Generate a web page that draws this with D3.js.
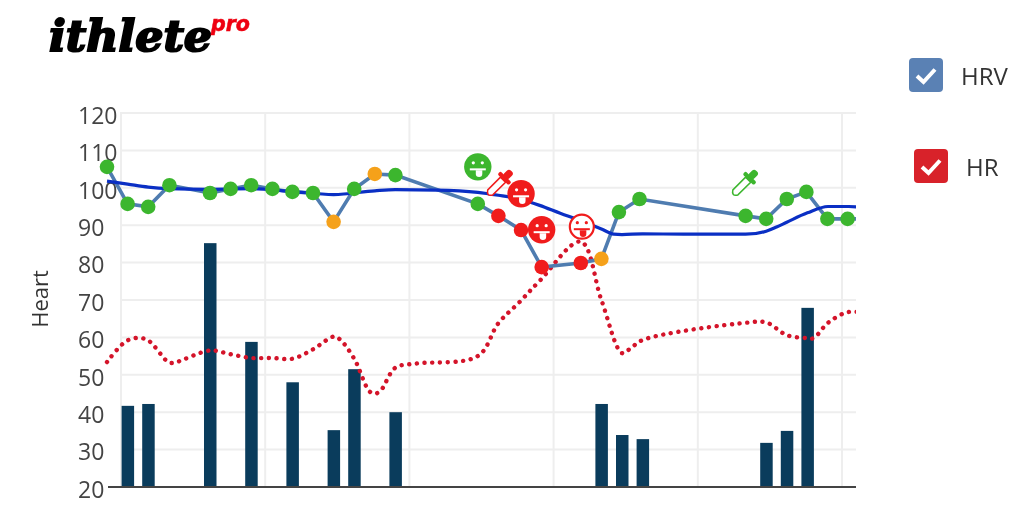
<!DOCTYPE html>
<html><head><meta charset="utf-8">
<script src="https://cdn.jsdelivr.net/npm/d3@7"></script>
<style>html,body{margin:0;padding:0;background:#fff}svg{display:block;filter:blur(.5px)}text{font-family:"Open Sans",sans-serif}</style>
</head><body><svg id="c" width="1024" height="506"></svg>
<script>
const yTicks=[20,30,40,50,60,70,80,90,100,110,120];
const gridDays=[0.68,7.68,14.68,21.68,28.68,35.68];
const hrvDays=[0,1,2,3.03,5,6,7,8.03,9,10,11,12,13,14,18,19,20.1,21.1,23,24,24.85,25.85,31,32,33,33.95,34.97,35.95,37];
const hrvValues=[105.6,95.7,94.9,100.7,98.6,99.7,100.7,99.7,98.9,98.6,90.9,99.7,103.7,103.4,95.7,92.5,88.7,78.8,79.9,81,93.5,97,92.5,91.7,97,98.9,91.7,91.7,91.7];
const hrvColors=["g","g","g","g","g","g","g","g","g","g","o","g","o","g","g","r","r","r","r","o","g","g","g","g","g","g","g","g","g"];
const avgDays=[0,1,2,3,5,7,9,11,13,14,16,18,19,20,21,22,23,24,24.6,25,26,28,31,32,32.5,33,34,35,36,37];
const avgValues=[101.8,101,100.2,99.8,99.6,99.8,99,98.2,99.2,99.5,99.4,98.8,98,97,95.3,93.2,91.2,89,87.6,87.5,87.7,87.6,87.6,88.4,89.5,90.8,93.3,95,95,94.6];
const hrDays=[0,1,1.9,3,3.3,5,6,7,8,9,10,11,11.3,12,12.8,13.2,14,15,18,19,20,21,23,24,25,25.4,26,31,32,33,34,34.3,35,36,37];
const hrValues=[53.4,59.2,59.5,53.3,53.3,56.5,55.5,54.5,54.5,54.3,56.8,60.2,59.5,54.3,45.3,45.3,51.9,53,55,63.8,69.3,75.1,85.6,70,55.8,57,59.3,63.9,64,60.6,59.8,59.8,63.9,66.8,66.3];
const barDays=[1,2,5,7,9,11,12,14,24,25,26,32,33,34];
const barValues=[41.7,42.2,85.2,58.8,48,35.2,51.5,40,42.2,33.9,32.8,31.8,35,67.9];
const faces=[{d:18,v:105.6,c:"#3cb62e",fill:true},{d:20.1,v:98.4,c:"#f01c1c",fill:true},{d:21.1,v:88.8,c:"#f01c1c",fill:true},{d:23.05,v:89.6,c:"#f01c1c",fill:false}];
const drops=[{d:19.1,v:101.5,c:"#f01c1c"},{d:31,v:101.5,c:"#3cb62e"}];
const legendItems=[{name:"HRV",c:"#5a81b4"},{name:"HR",c:"#d8222a"}];
const colors={g:"#3cb62e",o:"#f5a11a",r:"#f01c1c"};

const svg=d3.select("#c");
const x=d3.scaleLinear().domain([0,36]).range([107,848.6]);
const y=d3.scaleLinear().domain([20,120]).range([487,113]);
const L=108,R=856;
svg.append("defs").append("clipPath").attr("id","pc").append("rect").attr("x",90).attr("y",100).attr("width",R-90).attr("height",400);

const g=svg.append("g");
g.selectAll(".h").data(yTicks.slice(1)).join("line").attr("x1",L+12).attr("x2",R).attr("y1",y).attr("y2",y).attr("stroke","#eeeeee").attr("stroke-width",2);
g.selectAll(".v").data(gridDays).join("line").attr("x1",x).attr("x2",x).attr("y1",113).attr("y2",487).attr("stroke","#eeeeee").attr("stroke-width",2);

const ya=svg.append("g").attr("transform","translate(78,3)").call(d3.axisLeft(y).tickValues(yTicks).tickSize(0).tickPadding(0));
ya.select(".domain").remove();
ya.selectAll("text").attr("text-anchor","start").attr("x",0).attr("font-size",23).attr("fill","#444").style("font-family",'"Open Sans",sans-serif');
svg.append("text").attr("transform","translate(48,299) rotate(-90)").attr("text-anchor","middle").attr("font-size",22).attr("fill","#333").text("Heart");

svg.selectAll(".bar").data(barDays).join("rect").attr("x",d=>x(d)-6).attr("width",12.5).attr("y",(d,i)=>y(barValues[i])).attr("height",(d,i)=>y(20)-y(barValues[i])).attr("fill","#0a3c5c");
svg.append("line").attr("x1",L).attr("x2",R).attr("y1",487).attr("y2",487).attr("stroke","#444").attr("stroke-width",2);

const plot=svg.append("g").attr("clip-path","url(#pc)");
const ln=d3.line().x(d=>x(d[0])).y(d=>y(d[1]));
plot.append("path").attr("d",ln.curve(d3.curveCatmullRom.alpha(0.5))(hrDays.map((d,i)=>[d,hrValues[i]]))).attr("fill","none").attr("stroke","#d4142a").attr("stroke-width",4.4).attr("stroke-linecap","round").attr("stroke-dasharray","0.1 7.6");
plot.append("path").attr("d",ln.curve(d3.curveLinear)(hrvDays.map((d,i)=>[d,hrvValues[i]]))).attr("fill","none").attr("stroke","#4f7cb0").attr("stroke-width",3.6);
plot.append("path").attr("d",ln.curve(d3.curveMonotoneX)(avgDays.map((d,i)=>[d,avgValues[i]]))).attr("fill","none").attr("stroke","#0a2fc4").attr("stroke-width",3.2);
plot.selectAll(".p").data(hrvDays.slice(0,-1)).join("circle").attr("cx",x).attr("cy",(d,i)=>y(hrvValues[i])).attr("r",7.3).attr("fill",(d,i)=>colors[hrvColors[i]]);

const fg=svg.selectAll(".f").data(faces).join("g").attr("transform",d=>`translate(${x(d.d)},${y(d.v)})`);
fg.append("circle").attr("r",d=>d.fill?13.7:12).attr("fill",d=>d.fill?d.c:"#fff").attr("stroke",d=>d.c).attr("stroke-width",d=>d.fill?0:2.2);
fg.each(function(d){
  const s=d3.select(this),fc=d.fill?"#fff":d.c;
  s.append("circle").attr("cx",-4.5).attr("cy",-4).attr("r",1.6).attr("fill",fc);
  s.append("circle").attr("cx",4.5).attr("cy",-4).attr("r",1.6).attr("fill",fc);
  s.append("rect").attr("x",-8).attr("y",1.5).attr("width",16).attr("height",2).attr("fill",fc);
  s.append("path").attr("d","M-2,3.5h6.5v3.5a3.2,3.2 0 0 1 -6.5,0z").attr("fill",fc);
});
const dg=svg.selectAll(".d").data(drops).join("g").attr("transform",d=>`translate(${x(d.d)},${y(d.v)}) rotate(45) scale(1.2)`);
dg.append("path").attr("d","M-3,-3 L3,-3 L3,12 Q0,17 -3,12 Z").attr("fill","#fff").attr("stroke",d=>d.c).attr("stroke-width",1.3);
dg.append("rect").attr("x",-6.5).attr("y",-6.5).attr("width",13).attr("height",3.6).attr("rx",1.5).attr("fill",d=>d.c);
dg.append("rect").attr("x",-3).attr("y",-13).attr("width",6).attr("height",8).attr("rx",2.5).attr("fill",d=>d.c);

const lg=svg.selectAll(".l").data(legendItems).join("g").attr("transform",(d,i)=>`translate(${909+i*5},${58+i*91})`);
lg.append("rect").attr("width",34).attr("height",34).attr("rx",4).attr("fill",d=>d.c);
lg.append("path").attr("d","M8,18 L14.5,24 L26,11.5").attr("fill","none").attr("stroke","#fff").attr("stroke-width",4);
lg.append("text").attr("x",52).attr("y",27).attr("font-size",24).attr("fill","#333").text(d=>d.name);

svg.append("text").attr("x",49).attr("y",51).style("font-family",'"DejaVu Serif"').attr("font-weight",700).attr("font-style","italic").attr("font-size",42).attr("textLength",163).attr("lengthAdjust","spacingAndGlyphs").attr("fill","#000").attr("stroke","#000").attr("stroke-width",2).text("ithlete");
svg.append("text").attr("x",211).attr("y",31).style("font-family",'"DejaVu Sans"').attr("font-weight",700).attr("font-style","italic").attr("font-size",21).attr("textLength",39).attr("lengthAdjust","spacingAndGlyphs").attr("fill","#ee0011").attr("stroke","#ee0011").attr("stroke-width",.5).text("pro");
</script></body></html>
